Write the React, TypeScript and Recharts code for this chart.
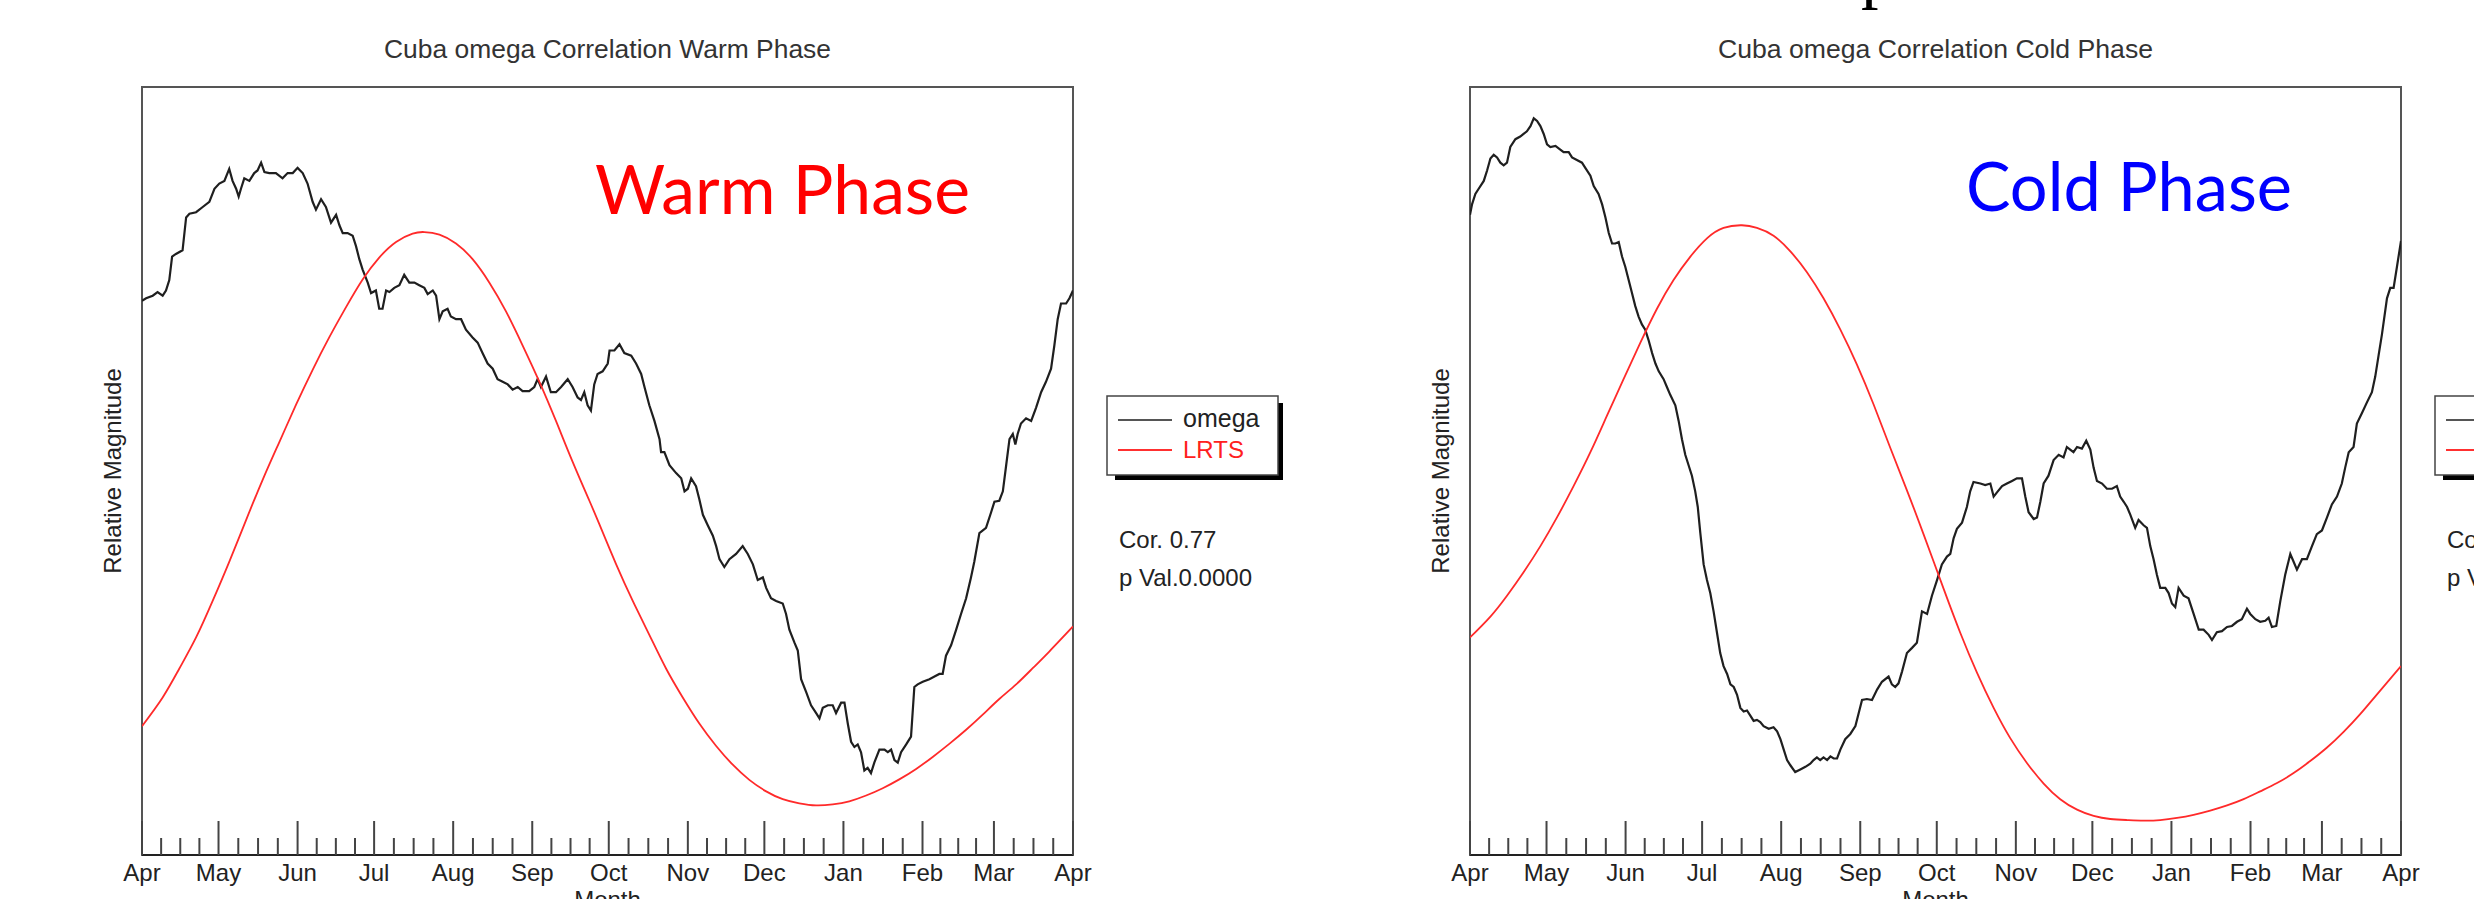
import React from 'react';
import { LineChart, Line, XAxis, YAxis, ReferenceArea } from 'recharts';

// ---------- axis / label data ----------
const monthLabels = ['Apr', 'May', 'Jun', 'Jul', 'Aug', 'Sep', 'Oct', 'Nov', 'Dec', 'Jan', 'Feb', 'Mar', 'Apr'];
const monthDays = [30, 31, 30, 31, 31, 30, 31, 30, 31, 31, 28, 31];
const seriesNames = ['omega', 'LRTS'];
const warmTitle = 'Cuba omega Correlation Warm Phase';
const coldTitle = 'Cuba omega Correlation Cold Phase';
const warmStats = ['Cor. 0.77', 'p Val.0.0000'];
const coldStats = ['Cor. 0.77', 'p Val.0.0000'];
const yLabel = 'Relative Magnitude';
const xLabel = 'Month';

// ---------- series data: [day since Apr 1, relative magnitude] ----------
const warmOmega: [number, number][] = [
  [0, 106.2], [1.6, 106.7], [4.2, 107.2], [6.1, 107.9], [8.1, 107.2], [9.4, 108.2], [10.7, 110.2], [11.8, 114.7],
  [13.3, 115.2], [15.9, 115.9], [17.3, 122.2], [18.6, 122.9], [21.2, 123.2], [23.8, 124.2], [26.4, 125.2], [28.4, 127.7],
  [30.3, 128.7], [32.3, 129.2], [34.2, 131.5], [35.5, 129.2], [36.9, 127.7], [37.9, 126.2], [38.8, 127.7], [40.1, 129.7],
  [42.1, 129.2], [44.0, 130.7], [45.3, 131.2], [46.7, 132.7], [48.0, 130.9], [49.9, 130.7], [52.5, 130.7], [55.1, 129.7],
  [57.1, 130.7], [59.1, 130.7], [61.0, 131.7], [63.0, 130.7], [64.9, 128.7], [66.9, 125.2], [68.2, 123.7], [70.2, 125.7],
  [72.1, 124.2], [74.1, 121.2], [76.1, 122.7], [77.4, 120.7], [78.7, 119.2], [80.6, 119.2], [82.6, 118.7], [83.9, 116.7],
  [85.2, 114.2], [86.5, 112.2], [88.5, 109.7], [89.8, 107.7], [91.7, 108.2], [93.0, 104.7], [94.3, 104.7], [95.7, 108.2],
  [97.0, 107.9], [98.9, 108.7], [100.9, 109.2], [102.8, 111.2], [104.8, 109.7], [106.8, 109.7], [108.7, 109.2], [110.7, 108.7],
  [112.0, 107.5], [114.0, 108.2], [115.3, 107.2], [116.6, 102.7], [117.9, 104.2], [119.8, 104.7], [121.1, 103.2], [123.1, 102.7],
  [125.1, 102.7], [127.0, 100.7], [129.6, 99.2], [131.6, 98.2], [133.5, 96.2], [135.5, 94.2], [137.5, 93.2], [139.4, 91.2],
  [141.4, 90.7], [143.4, 90.2], [145.3, 89.2], [147.3, 89.7], [149.2, 88.9], [151.8, 88.9], [153.8, 89.7], [155.1, 91.2],
  [156.4, 89.7], [158.4, 91.7], [160.3, 88.7], [162.3, 88.7], [164.3, 89.7], [166.9, 91.2], [168.8, 89.7], [170.8, 87.7],
  [172.1, 87.2], [173.4, 88.7], [174.7, 86.2], [176.0, 85.2], [177.3, 90.2], [178.6, 92.2], [180.6, 92.7], [182.6, 94.2],
  [183.3, 96.7], [185.2, 96.7], [187.2, 97.9], [189.1, 96.2], [191.8, 95.7], [193.7, 94.2], [195.7, 92.2], [197.0, 89.7],
  [198.9, 86.2], [200.9, 83.2], [202.9, 79.7], [203.5, 77.2], [204.8, 77.2], [206.8, 74.7], [209.4, 73.2], [211.4, 72.2],
  [212.7, 69.7], [214.0, 70.2], [215.3, 72.2], [217.2, 70.7], [218.5, 68.2], [219.9, 65.2], [221.8, 63.2], [223.8, 61.2],
  [225.1, 59.2], [226.4, 56.7], [228.3, 55.2], [230.3, 56.7], [232.9, 57.7], [235.5, 59.2], [237.5, 57.7], [239.5, 55.7],
  [241.4, 52.7], [243.4, 53.2], [244.7, 51.2], [246.6, 49.2], [248.6, 48.7], [251.2, 48.2], [252.5, 46.2], [253.8, 43.2],
  [255.8, 40.7], [257.1, 39.2], [258.4, 33.7], [260.4, 31.2], [262.3, 28.7], [264.3, 27.2], [265.6, 26.2], [266.9, 28.2],
  [268.9, 28.7], [270.8, 28.7], [272.1, 27.2], [274.1, 29.2], [275.4, 29.2], [276.7, 25.2], [278.0, 21.7], [279.3, 20.7],
  [280.6, 21.2], [281.9, 19.7], [283.2, 16.2], [284.5, 16.7], [285.8, 15.7], [287.1, 17.7], [289.1, 20.2], [291.1, 20.2],
  [292.4, 19.7], [293.7, 20.2], [295.0, 18.2], [296.3, 17.7], [297.6, 19.7], [299.6, 21.2], [301.5, 22.7], [302.8, 32.2],
  [304.1, 32.7], [306.1, 33.2], [308.7, 33.7], [310.7, 34.2], [312.6, 34.7], [313.9, 34.7], [315.2, 38.2], [317.2, 40.2],
  [319.2, 43.2], [321.1, 46.2], [323.1, 49.2], [325.0, 53.2], [326.3, 56.2], [328.3, 61.7], [330.9, 62.7], [332.9, 65.7],
  [334.2, 67.7], [336.1, 67.9], [337.5, 69.7], [338.8, 74.7], [340.1, 79.7], [341.4, 80.7], [342.4, 78.7], [343.3, 80.7],
  [344.6, 82.7], [346.6, 83.7], [348.6, 83.2], [350.5, 85.7], [352.5, 88.7], [354.4, 90.7], [356.4, 93.2], [357.7, 97.7],
  [359.0, 102.7], [360.3, 105.7], [362.3, 105.7], [363.6, 106.7], [365, 108.2],
];

const warmLrts: [number, number][] = [
  [0, 24.7], [8.1, 30.2], [14.6, 35.7], [21.2, 41.7], [27.7, 48.7], [34.2, 56.2], [40.8, 64.2], [47.3, 71.9],
  [53.8, 79.1], [60.4, 86.3], [66.9, 93.0], [73.4, 99.2], [80.0, 105.0], [86.5, 110.3], [93.0, 114.5], [99.6, 117.5],
  [106.1, 119.1], [110.7, 119.4], [116.6, 118.9], [123.1, 117.2], [129.6, 114.2], [136.2, 109.7], [142.7, 104.2], [149.2, 97.7],
  [155.8, 90.7], [162.3, 83.2], [168.8, 75.4], [175.4, 67.9], [179.3, 63.4], [185.9, 55.7], [192.4, 48.7], [198.9, 42.2],
  [205.5, 35.7], [212.0, 30.2], [218.5, 25.2], [225.1, 20.9], [231.6, 17.3], [238.1, 14.4], [244.7, 12.2], [251.2, 10.7],
  [257.7, 9.9], [264.3, 9.5], [270.8, 9.7], [277.3, 10.3], [283.9, 11.4], [290.4, 12.8], [296.9, 14.5], [303.5, 16.5],
  [310.0, 18.8], [316.5, 21.3], [323.1, 24.0], [329.6, 26.9], [336.1, 29.9], [342.7, 32.7], [349.2, 35.8], [355.7, 39.0],
  [365, 43.8],
];

const coldOmega: [number, number][] = [
  [0, 122.7], [0.8, 124.7], [2.1, 126.7], [3.4, 127.7], [5.4, 129.2], [6.7, 131.2], [8.0, 133.5], [9.3, 134.2],
  [10.6, 133.7], [11.9, 132.7], [13.2, 132.2], [14.5, 132.7], [15.8, 135.7], [17.8, 137.2], [19.7, 137.7], [21.0, 138.2],
  [22.3, 138.7], [23.7, 139.7], [25.0, 141.2], [26.3, 140.7], [27.6, 139.7], [28.9, 138.2], [30.2, 136.2], [31.5, 135.7],
  [33.5, 135.9], [35.4, 135.2], [36.7, 134.7], [38.7, 134.7], [40.0, 133.7], [41.9, 133.2], [43.9, 132.7], [45.2, 131.7],
  [47.2, 130.2], [48.5, 128.2], [50.4, 126.7], [51.8, 124.7], [53.1, 122.2], [54.4, 119.2], [55.7, 117.2], [57.0, 117.2],
  [58.3, 117.5], [59.6, 114.7], [60.9, 112.7], [62.2, 110.2], [63.5, 107.7], [64.8, 105.2], [66.1, 103.2], [67.4, 101.7],
  [68.7, 100.7], [70.0, 98.7], [71.4, 96.2], [72.7, 94.2], [74.0, 92.7], [75.9, 91.2], [77.2, 89.7], [78.5, 88.2],
  [80.5, 86.2], [81.8, 83.2], [83.1, 79.7], [84.4, 76.7], [85.7, 74.7], [87.0, 72.7], [88.3, 69.7], [89.3, 66.7],
  [90.3, 61.7], [91.6, 55.7], [92.9, 52.7], [94.2, 50.2], [95.5, 46.7], [96.8, 42.7], [98.1, 38.7], [99.4, 36.2],
  [100.8, 34.7], [102.1, 32.7], [103.4, 32.2], [104.7, 30.7], [106.0, 28.2], [107.3, 27.5], [108.6, 27.7], [109.9, 26.7],
  [111.2, 25.7], [112.5, 25.9], [113.8, 25.5], [115.1, 24.7], [117.1, 24.2], [119.0, 24.5], [120.4, 23.7], [121.7, 22.2],
  [123.0, 20.2], [124.3, 18.2], [125.6, 17.2], [127.5, 15.9], [129.5, 16.4], [131.5, 16.9], [133.4, 17.5], [134.7, 18.2],
  [136.0, 18.7], [137.3, 18.2], [138.6, 18.7], [140.0, 18.2], [141.3, 18.9], [142.6, 18.5], [143.9, 18.5], [145.2, 20.2],
  [147.1, 22.2], [149.1, 23.2], [151.1, 24.7], [152.4, 27.2], [153.7, 29.7], [155.6, 29.9], [157.6, 29.7], [159.6, 31.7],
  [161.5, 33.2], [164.1, 34.2], [165.4, 32.7], [166.7, 32.2], [168.0, 32.9], [169.4, 35.2], [171.3, 38.7], [173.3, 39.7],
  [175.2, 40.7], [177.2, 46.7], [179.2, 46.2], [181.1, 49.7], [183.1, 52.7], [185.0, 55.7], [187.0, 57.2], [188.3, 57.7],
  [189.6, 60.7], [190.9, 62.5], [192.9, 63.7], [194.8, 66.7], [196.1, 69.7], [197.4, 71.5], [200.1, 71.2], [202.0, 70.9],
  [204.0, 71.2], [205.3, 68.7], [206.6, 69.5], [208.6, 70.7], [210.5, 71.2], [212.5, 71.7], [214.4, 72.2], [216.4, 72.2],
  [217.7, 68.7], [219.0, 65.7], [221.0, 64.4], [222.3, 64.7], [223.6, 67.7], [224.9, 71.2], [226.8, 72.7], [228.8, 75.7],
  [230.8, 76.7], [232.7, 76.2], [234.0, 78.2], [235.3, 77.7], [236.6, 77.2], [238.0, 78.2], [239.9, 77.9], [241.6, 79.4],
  [243.2, 77.7], [244.5, 74.2], [245.8, 71.7], [247.8, 71.2], [249.7, 70.2], [251.7, 70.2], [253.6, 70.7], [254.9, 68.7],
  [256.3, 67.7], [257.6, 66.7], [258.9, 65.2], [260.8, 62.7], [262.1, 64.2], [264.1, 63.2], [265.4, 62.7], [266.7, 59.2],
  [268.0, 56.7], [269.3, 53.7], [270.6, 51.2], [272.6, 51.2], [273.9, 50.2], [275.2, 48.2], [276.5, 47.5], [277.8, 51.2],
  [279.8, 49.7], [281.7, 49.2], [283.7, 46.2], [285.7, 43.2], [287.6, 43.2], [289.6, 42.2], [290.9, 41.2], [292.8, 42.7],
  [294.8, 42.9], [296.8, 43.7], [298.7, 43.9], [300.7, 44.7], [302.6, 45.2], [304.6, 47.2], [305.9, 46.2], [307.9, 45.2],
  [309.8, 44.7], [311.8, 44.9], [313.1, 45.5], [314.4, 43.7], [316.1, 43.9], [317.7, 48.7], [319.6, 53.7], [321.6, 57.7],
  [322.9, 56.2], [324.2, 54.7], [326.2, 56.7], [328.1, 56.7], [330.1, 59.2], [332.0, 61.5], [334.0, 62.2], [336.0, 64.7],
  [337.9, 67.2], [339.9, 68.7], [341.8, 71.2], [343.1, 74.2], [344.5, 77.2], [346.4, 78.2], [347.7, 82.7], [349.7, 84.7],
  [351.6, 86.7], [353.6, 88.7], [354.9, 91.7], [356.2, 95.7], [357.5, 99.7], [359.5, 106.7], [360.8, 108.7], [362.1, 108.7],
  [363.4, 112.7], [365, 117.7],
];

const coldLrts: [number, number][] = [
  [0, 41.7], [8.0, 45.7], [14.5, 49.7], [21.0, 54.2], [27.6, 59.2], [34.1, 64.7], [40.6, 70.7], [47.2, 77.2],
  [53.7, 84.2], [60.2, 91.2], [66.8, 98.2], [73.3, 104.7], [79.8, 110.2], [86.4, 114.7], [92.9, 118.2], [99.4, 120.2],
  [106.6, 120.7], [112.5, 120.2], [119.0, 118.7], [125.6, 115.7], [132.1, 111.7], [138.6, 106.7], [145.2, 100.7], [151.7, 94.0],
  [158.2, 86.4], [164.8, 78.0], [171.3, 69.9], [177.8, 61.5], [185.7, 51.0], [192.2, 42.6], [198.8, 34.9], [205.3, 28.2],
  [211.8, 22.4], [218.4, 17.6], [224.9, 13.7], [231.4, 10.7], [238.0, 8.7], [244.5, 7.5], [251.0, 6.9], [257.6, 6.7],
  [264.1, 6.6], [270.6, 6.7], [277.2, 7.1], [283.7, 7.7], [290.2, 8.5], [296.8, 9.5], [303.3, 10.7], [309.8, 12.2],
  [316.4, 13.8], [322.9, 15.7], [329.4, 18.0], [336.0, 20.6], [342.5, 23.6], [349.0, 27.0], [355.6, 30.8], [365, 36.2],
];

// ---------- derived axis config ----------
const majorTicks: number[] = [0];
monthDays.forEach((d, i) => majorTicks.push(majorTicks[i] + d));
const allTicks: number[] = [];
monthDays.forEach((d, i) => {
  const s = majorTicks[i];
  allTicks.push(s, s + d / 4, s + d / 2, s + (3 * d) / 4);
});
allTicks.push(majorTicks[majorTicks.length - 1]);

const Y_MAX = 147.2;
const X_MAX = 365;
const SANS = '"Liberation Sans", Arial, Helvetica, sans-serif';

const toRows = (arr: [number, number][]) => arr.map(([day, v]) => ({ day, v }));

const MonthTick = (props: any) => {
  const { x, y, payload } = props;
  const idx = majorTicks.indexOf(payload.value);
  const major = idx >= 0;
  return (
    <g>
      <line x1={x} x2={x} y1={y} y2={y - (major ? 34 : 17)} stroke="#444" strokeWidth={2} />
      {major && (
        <text x={x} y={y + 26} textAnchor="middle" fontSize={24} fill="#222" fontFamily={SANS}>
          {monthLabels[idx]}
        </text>
      )}
    </g>
  );
};

type PanelProps = {
  left: number;
  width: number;
  marginLeft: number;
  marginRight: number;
  omega: [number, number][];
  lrts: [number, number][];
};

const Panel = ({ left, width, marginLeft, marginRight, omega, lrts }: PanelProps) => (
  <div style={{ position: 'absolute', left, top: 0 }}>
    <LineChart
      width={width}
      height={899}
      margin={{ top: 87, right: marginRight, bottom: 0, left: marginLeft }}
    >
      <XAxis
        type="number"
        dataKey="day"
        domain={[0, X_MAX]}
        ticks={allTicks}
        interval={0}
        tickSize={0}
        tickMargin={0}
        height={44}
        axisLine={{ stroke: '#222', strokeWidth: 2 }}
        tickLine={false}
        tick={<MonthTick />}
        allowDataOverflow
      />
      <YAxis type="number" domain={[0, Y_MAX]} hide allowDataOverflow />
      <ReferenceArea x1={0} x2={X_MAX} y1={0} y2={Y_MAX} stroke="#555" strokeWidth={2} fill="none" fillOpacity={0} />
      <Line
        data={toRows(omega)}
        dataKey="v"
        name={seriesNames[0]}
        type="linear"
        stroke="#1f1f1f"
        strokeWidth={2.2}
        dot={false}
        isAnimationActive={false}
      />
      <Line
        data={toRows(lrts)}
        dataKey="v"
        name={seriesNames[1]}
        type="natural"
        stroke="#ff2a2a"
        strokeWidth={1.8}
        dot={false}
        isAnimationActive={false}
      />
    </LineChart>
  </div>
);

const Decor = ({ dx, title, titleLen, stats }: { dx: number; title: string; titleLen: number; stats: string[] }) => (
  <g transform={`translate(${dx},0)`}>
    <text x={607.5} y={58} textAnchor="middle" fontSize={25} fill="#333" fontFamily={SANS}
      textLength={titleLen} lengthAdjust="spacingAndGlyphs">{title}</text>
    <text transform="translate(121,471) rotate(-90)" textAnchor="middle" fontSize={24} fill="#222" fontFamily={SANS}>{yLabel}</text>
    <text x={607.5} y={908} textAnchor="middle" fontSize={24} fill="#222" fontFamily={SANS}>{xLabel}</text>
    {/* legend */}
    <rect x={1115} y={403} width={168} height={77} fill="#000" />
    <rect x={1107} y={396} width={171} height={79} fill="#fff" stroke="#444" strokeWidth={1.5} />
    <line x1={1118} x2={1172} y1={420} y2={420} stroke="#555" strokeWidth={2} />
    <line x1={1118} x2={1172} y1={450} y2={450} stroke="#ff3030" strokeWidth={2} />
    <text x={1183} y={427} fontSize={25} fill="#222" fontFamily={SANS}>{seriesNames[0]}</text>
    <text x={1183} y={458} fontSize={24} fill="#ff2020" fontFamily={SANS}>{seriesNames[1]}</text>
    <text x={1119} y={548} fontSize={24} fill="#222" fontFamily={SANS}>{stats[0]}</text>
    <text x={1119} y={586} fontSize={24} fill="#222" fontFamily={SANS}>{stats[1]}</text>
  </g>
);

export default function App() {
  return (
    <div style={{ position: 'absolute', left: 0, top: 0, width: 2474, height: 899, overflow: 'hidden', background: '#fff' }}>
      <Panel left={0} width={1240} marginLeft={142} marginRight={167} omega={warmOmega} lrts={warmLrts} />
      <Panel left={1240} width={1234} marginLeft={230} marginRight={73} omega={coldOmega} lrts={coldLrts} />
      <svg width={2474} height={899} style={{ position: 'absolute', left: 0, top: 0, pointerEvents: 'none' }}>
        <Decor dx={0} title={warmTitle} titleLen={447} stats={warmStats} />
        <Decor dx={1328} title={coldTitle} titleLen={435} stats={coldStats} />
        <text x={595} y={214} fontSize={68} fill="#ff0000" fontFamily="Lato, 'Open Sans', sans-serif"
          textLength={375} lengthAdjust="spacingAndGlyphs">Warm Phase</text>
        <text x={1966} y={211} fontSize={68} fill="#0000ff" fontFamily="Lato, 'Open Sans', sans-serif"
          textLength={326} lengthAdjust="spacingAndGlyphs">Cold Phase</text>
        <text x={1861} y={-5} fontSize={70} fill="#000" fontFamily='"Liberation Serif", "Times New Roman", serif'>p</text>
      </svg>
    </div>
  );
}
